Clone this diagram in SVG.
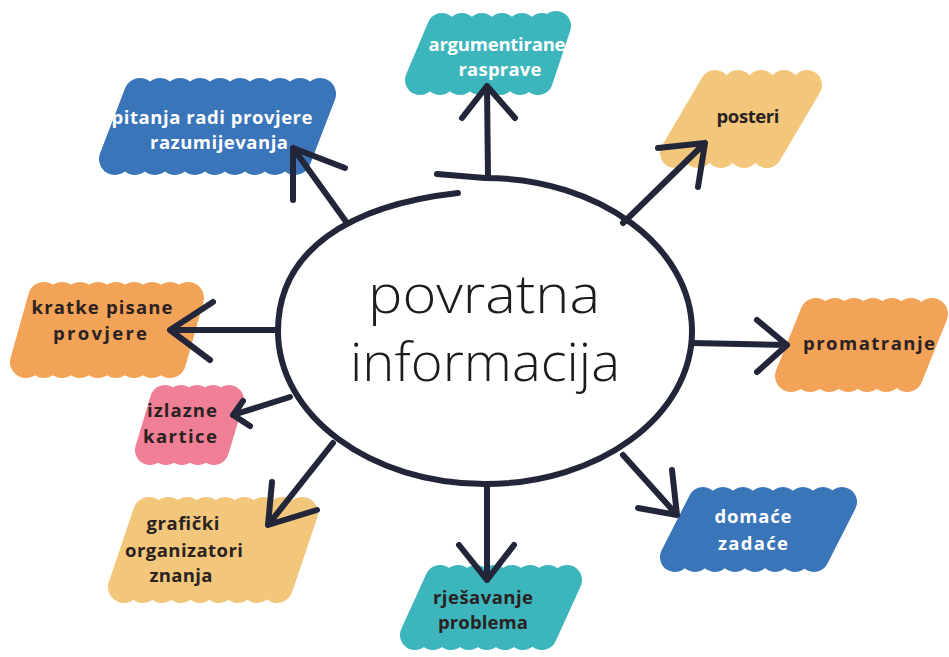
<svg xmlns="http://www.w3.org/2000/svg" width="949" height="657" viewBox="0 0 949 657">
<style>
.blob{fill:none;stroke-linecap:round;stroke-linejoin:round}
.teal{stroke:#3db5bc}
.blue{stroke:#3a75b9}
.tan{stroke:#f2c77b}
.orange{stroke:#f3a357}
.pink{stroke:#ee7f97}
.lbl{font-family:"Open Sans","DejaVu Sans",sans-serif;font-weight:700;font-size:18.5px;text-anchor:middle}
.w{fill:#ffffff}
.d{fill:#2a2222}
.arrow{fill:none;stroke:#232638;stroke-width:6;stroke-linecap:round;stroke-linejoin:round}
.hand{font-family:"Open Sans","Lato","DejaVu Sans",sans-serif;font-weight:300;font-size:54px;fill:#1c1c1c;text-anchor:middle}
</style>
<rect width="949" height="657" fill="#ffffff"/>

<g id="center">
<path d="M485 178 C599 178 692 247 692 331 C692 416 599 484 485 484 C371 484 278 416 278 331 C278 250 371 178 485 178 Z" fill="#ffffff"/>
<path class="arrow" d="M437 174 Q461 176 485 178 C599 178 692 247 692 331 C692 416 599 484 485 484 C371 484 278 416 278 331 C278 250 350 205 458 193"/>
<text class="hand" x="484" y="313" textLength="232" lengthAdjust="spacingAndGlyphs">povratna</text>
<text class="hand" x="485" y="381" textLength="270" lengthAdjust="spacingAndGlyphs">informacija</text>
</g>

<g id="n-argumentirane">
<path class="blob teal" stroke-width="30" d="M420 80 L442 28 M440 80 L462 28 M460 80 L482 28 M480 80 L502 28 M500 80 L522 28 M520 80 L542 28 M538 80 L556 26"/>
<text class="lbl w" x="497" y="51" textLength="137">argumentirane</text>
<text class="lbl w" x="500" y="76" textLength="83">rasprave</text>
</g>

<g id="n-pitanja">
<path class="blob blue" stroke-width="32" d="M115 159 L140 94 M135 159 L160 94 M155 159 L180 94 M175 159 L200 94 M195 159 L220 94 M215 159 L240 94 M235 159 L260 94 M255 159 L280 94 M275 159 L300 94 M295 159 L320 94"/>
<text class="lbl w" x="212" y="124" textLength="201">pitanja radi provjere</text>
<text class="lbl w" x="219" y="149" textLength="138">razumijevanja</text>
</g>

<g id="n-posteri">
<path class="blob tan" stroke-width="30" d="M675 153 L715 85 M698 153 L738 85 M721 153 L761 85 M744 153 L784 85 M767 153 L807 85"/>
<text class="lbl d" x="748" y="123" textLength="63">posteri</text>
</g>

<g id="n-kratke">
<path class="blob orange" stroke-width="32" d="M26 362 L44 298 M44 362 L62 298 M62 362 L80 298 M80 362 L98 298 M98 362 L116 298 M116 362 L134 298 M134 362 L152 298 M152 362 L170 298 M170 362 L188 298"/>
<text class="lbl d" x="102" y="314" textLength="141">kratke pisane</text>
<text class="lbl d" x="100" y="340" textLength="94">provjere</text>
</g>

<g id="n-izlazne">
<path class="blob pink" stroke-width="30" d="M150 450 L165 400 M166 450 L181 400 M182 450 L197 400 M198 450 L213 400 M214 450 L229 400"/>
<text class="lbl d" x="182" y="417" textLength="70">izlazne</text>
<text class="lbl d" x="180" y="443" textLength="74">kartice</text>
</g>

<g id="n-graficki">
<path class="blob tan" stroke-width="32" d="M124 587 L149 513 M143 587 L168 513 M162 587 L187 513 M181 587 L206 513 M200 587 L225 513 M219 587 L244 513 M238 587 L263 513 M257 587 L282 513 M277 587 L302 513"/>
<text class="lbl d" x="183" y="530" textLength="73">grafički</text>
<text class="lbl d" x="184" y="557" textLength="118">organizatori</text>
<text class="lbl d" x="181" y="582" textLength="63">znanja</text>
</g>

<g id="n-rjesavanje">
<path class="blob teal" stroke-width="30" d="M415 635 L440 580 M433 635 L458 580 M451 635 L476 580 M469 635 L494 580 M487 635 L512 580 M505 635 L530 580 M523 635 L548 580 M542 635 L567 580"/>
<text class="lbl d" x="483" y="604" textLength="100">rješavanje</text>
<text class="lbl d" x="483" y="629" textLength="90">problema</text>
</g>

<g id="n-domace">
<path class="blob blue" stroke-width="30" d="M675 557 L703 502 M695 557 L723 502 M715 557 L743 502 M735 557 L763 502 M755 557 L783 502 M775 557 L803 502 M795 557 L823 502 M814 557 L842 502"/>
<text class="lbl w" x="753" y="523" textLength="77">domaće</text>
<text class="lbl w" x="753" y="550" textLength="70">zadaće</text>
</g>

<g id="n-promatranje">
<path class="blob orange" stroke-width="32" d="M791 376 L816 314 M810 376 L835 314 M829 376 L854 314 M848 376 L873 314 M867 376 L892 314 M886 376 L911 314 M907 376 L932 314"/>
<text class="lbl d" x="869" y="350" textLength="132">promatranje</text>
</g>

<g id="connectors">
<path class="arrow" d="M488 178 L487 86 M462 118 L487 86 L515 118"/>
<path class="arrow" d="M347 223 L293 148 M345 168 L293 148 L293 200"/>
<path class="arrow" d="M623 223 L705 143 M658 148 L705 143 L698 187"/>
<path class="arrow" d="M692 343 L787 345 M757 320 L787 345 L757 372"/>
<path class="arrow" d="M278 330 L170 330 M213 302 L170 330 L210 360"/>
<path class="arrow" d="M290 397 L233 415 M243 401 L233 415 L250 426"/>
<path class="arrow" d="M333 443 L268 525 M272 482 L268 525 L317 510"/>
<path class="arrow" d="M487 484 L487 580 M459 545 L487 580 L514 545"/>
<path class="arrow" d="M623 455 L677 515 M672 470 L677 515 L638 508"/>
</g>
</svg>
